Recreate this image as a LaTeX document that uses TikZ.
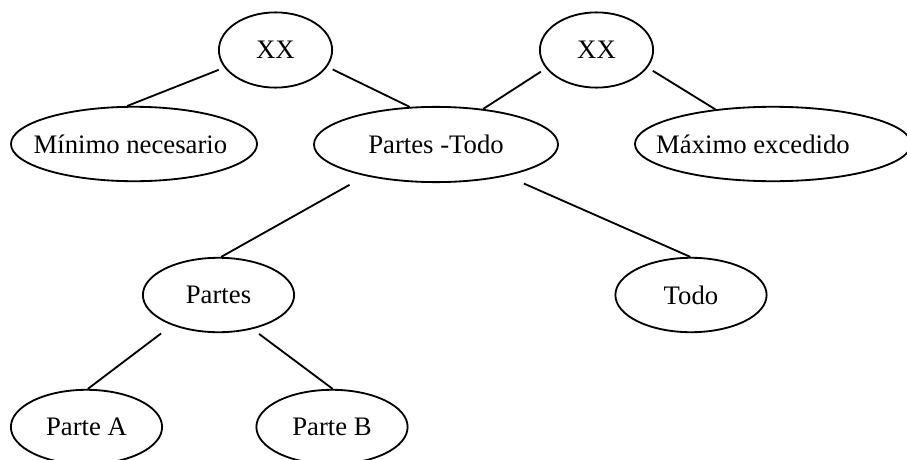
\documentclass[tikz,border=0pt]{standalone}
\usepackage{fontspec}
\setmainfont{Liberation Serif}
\usetikzlibrary{shapes.geometric}
\newcommand{\ovaltxt}[1]{\makebox[0pt]{#1}}

\begin{document}
\begin{tikzpicture}[
  x=0.025cm, y=-0.025cm,
  oval/.style={draw, ellipse, line width=1.3pt, inner sep=0pt,
               minimum height=1.86cm, font=\fontsize{19}{22}\selectfont},
  small/.style={oval, minimum width=3.78cm},
  link/.style={line width=1.3pt, shorten <=0.15cm}
]
\useasboundingbox (0,0) rectangle (907,460);
\node[oval, minimum width=2.83cm, minimum height=1.88cm] (xxl) at (275.5,50) {\ovaltxt{XX}};
\node[oval, minimum width=2.83cm, minimum height=1.88cm] (xxr) at (596.5,50) {\ovaltxt{XX}};
\node[oval, minimum width=6.15cm] (minimo)     at (134,144)   {\ovaltxt{Mínimo necesario\hspace{0.18cm}}};
\node[oval, minimum width=6.1cm, minimum height=1.88cm] (partestodo) at (436,144.5) {\ovaltxt{Partes -Todo}};
\node[oval, minimum width=6.9cm]  (maximo)     at (773,144)   {\ovaltxt{Máximo excedido\hspace{1cm}}};
\node[small] (partes) at (218.5,295) {\ovaltxt{Partes}};
\node[small] (todo)   at (691,295)   {\ovaltxt{Todo}};
\node[small] (partea) at (86.5,427)  {\ovaltxt{Parte A}};
\node[small] (parteb) at (332,427)   {\ovaltxt{Parte B}};
\draw[link] (xxl.199) -- (minimo.100);
\draw[link] (xxl.342) -- (partestodo.125);
\draw[link] (xxr.200) -- (partestodo.37);
\draw[link] (xxr.341) -- (maximo.149);
\draw[link, shorten <=0.45cm] (partestodo.204.6) -- (partes.86);
\draw[link, shorten <=0.47cm] (partestodo.336) -- (todo.91);
\draw[link, shorten <=0.34cm] (partes.213.6) -- (partea.88);
\draw[link, shorten <=0.2cm]  (partes.315) -- (parteb.89);
\end{tikzpicture}
\end{document}
